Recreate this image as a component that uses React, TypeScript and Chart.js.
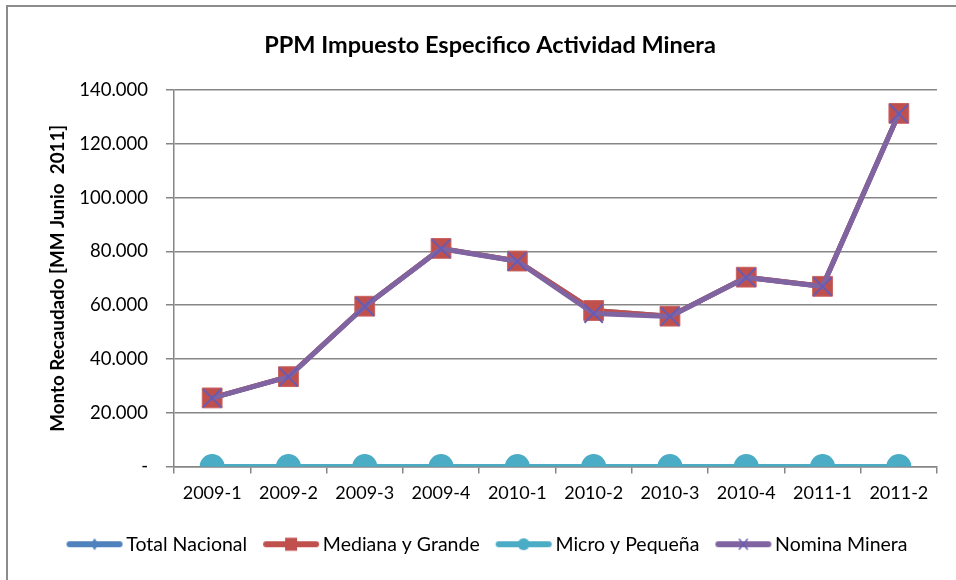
import React, { useEffect, useRef } from "react";
import { Chart, registerables } from "chart.js";

Chart.register(...registerables);

const categories = ["2009-1", "2009-2", "2009-3", "2009-4", "2010-1", "2010-2", "2010-3", "2010-4", "2011-1", "2011-2"];
const totalNacional = [25500, 33400, 59600, 81100, 76400, 58000, 55900, 70400, 67000, 131300];
const medianaYGrande = [25500, 33400, 59600, 81100, 76400, 58000, 55900, 70400, 67000, 131300];
const microYPequena = [0, 0, 0, 0, 0, 0, 0, 0, 0, 0];
const nominaMinera = [25400, 33300, 59500, 81000, 76300, 56900, 55800, 70300, 66900, 131200];
const yTicks = [0, 20000, 40000, 60000, 80000, 100000, 120000, 140000];

const FONT = "Lato, 'Open Sans', sans-serif";
const GRID = "#868686";

function fmt(v: number): string {
  if (v === 0) return "-";
  return Math.round(v).toString().replace(/\B(?=(\d{3})+(?!\d))/g, ".");
}

function legendImg(color: string, marker: (ctx: CanvasRenderingContext2D, x: number, y: number) => void) {
  const c = document.createElement("canvas");
  c.width = 58;
  c.height = 16;
  const ctx = c.getContext("2d")!;
  ctx.strokeStyle = color;
  ctx.lineWidth = 6;
  ctx.lineCap = "round";
  ctx.beginPath();
  ctx.moveTo(4, 8);
  ctx.lineTo(54, 8);
  ctx.stroke();
  ctx.fillStyle = color;
  ctx.strokeStyle = color;
  marker(ctx, 29, 8);
  return c;
}

export default function App() {
  const ref = useRef<HTMLCanvasElement | null>(null);

  useEffect(() => {
    if (!ref.current) return;
    const imgs = [
      legendImg("#4F81BD", (ctx, x, y) => {
        ctx.beginPath();
        ctx.moveTo(x, y - 6);
        ctx.lineTo(x + 4, y);
        ctx.lineTo(x, y + 6);
        ctx.lineTo(x - 4, y);
        ctx.closePath();
        ctx.fill();
      }),
      legendImg("#C0504D", (ctx, x, y) => {
        ctx.fillRect(x - 6, y - 6.5, 12, 13);
      }),
      legendImg("#4BACC6", (ctx, x, y) => {
        ctx.beginPath();
        ctx.arc(x, y, 6, 0, Math.PI * 2);
        ctx.fill();
      }),
      legendImg("#8064A2", (ctx, x, y) => {
        ctx.lineWidth = 1.5;
        ctx.strokeStyle = "#6A5BB0";
        ctx.beginPath();
        ctx.moveTo(x - 4, y - 5);
        ctx.lineTo(x + 4, y + 5);
        ctx.moveTo(x + 4, y - 5);
        ctx.lineTo(x - 4, y + 5);
        ctx.stroke();
      }),
    ];

    const chart = new Chart(ref.current, {
      type: "line",
      data: {
        labels: categories,
        datasets: [
          {
            label: "Total Nacional",
            data: totalNacional,
            borderColor: "#4F81BD",
            backgroundColor: "#4F81BD",
            borderWidth: 5,
            pointStyle: "rectRot",
            pointRadius: 5,
            order: 3,
          },
          {
            label: "Mediana y Grande",
            data: medianaYGrande,
            borderColor: "#C0504D",
            backgroundColor: "#C0504D",
            pointBorderColor: "#C96461",
            pointBorderWidth: 1,
            borderWidth: 5,
            pointStyle: "rect",
            pointRadius: 14,
            order: 2,
          },
          {
            label: "Micro y Pequeña",
            data: microYPequena,
            borderColor: "#4BACC6",
            backgroundColor: "#4BACC6",
            borderWidth: 5,
            pointStyle: "circle",
            pointRadius: 10,
            order: 1,
          },
          {
            label: "Nomina Minera",
            data: nominaMinera,
            borderColor: "#8064A2",
            backgroundColor: "#8064A2",
            pointBorderColor: "#6A5BB0",
            pointBorderWidth: 2,
            borderWidth: 5,
            pointStyle: "crossRot",
            pointRadius: 13,
            order: 0,
          },
        ],
      },
      options: {
        responsive: false,
        animation: false,
        devicePixelRatio: 1,
        color: "#000",
        elements: { line: { tension: 0, borderJoinStyle: "round", borderCapStyle: "round" } },
        layout: { padding: { left: 43, right: 19, top: 0, bottom: 16 } },
        plugins: {
          title: {
            display: true,
            text: "PPM Impuesto Especifico Actividad Minera",
            color: "#000",
            font: { family: FONT, size: 23.5, weight: "bold" },
            padding: { top: 30.9, bottom: 30.9 },
          },
          legend: {
            display: true,
            position: "bottom",
            labels: {
              usePointStyle: true,
              pointStyleWidth: 44,
              padding: 22,
              color: "#000",
              font: { family: FONT, size: 19.5 },
              generateLabels: (c: any) =>
                c.data.datasets.map((ds: any, i: number) => ({
                  text: ds.label,
                  fillStyle: ds.backgroundColor,
                  strokeStyle: ds.borderColor,
                  lineWidth: 0,
                  pointStyle: imgs[i],
                  hidden: false,
                  datasetIndex: i,
                  fontColor: "#000",
                })),
            },
          },
          tooltip: { enabled: false },
        },
        scales: {
          x: {
            type: "category",
            offset: true,
            grid: { display: true, drawOnChartArea: false, drawTicks: true, tickLength: 7, color: GRID, lineWidth: 1.5, offset: true },
            border: { display: true, color: GRID, width: 1.5 },
            ticks: { color: "#000", font: { family: FONT, size: 18 }, padding: 9, maxRotation: 0, autoSkip: false },
            afterFit: (s: any) => {
              s.height = 46;
            },
          },
          y: {
            min: 0,
            max: 140000,
            afterBuildTicks: (s: any) => {
              s.ticks = yTicks.map((v) => ({ value: v }));
            },
            grid: { color: GRID, lineWidth: 1.5, tickLength: 8, drawTicks: true },
            border: { display: true, color: GRID, width: 1.5 },
            ticks: {
              color: "#000",
              font: { family: FONT, size: 18.5 },
              padding: 18,
              callback: (v: any) => fmt(Number(v)),
            },
            title: {
              display: true,
              text: "Monto Recaudado [MM Junio  2011]",
              color: "#000",
              font: { family: FONT, size: 18.8, weight: "bold" },
              padding: { top: 3.7, bottom: 0 },
            },
            afterFit: (s: any) => {
              s.width = 131;
            },
          },
        },
      },
    });
    return () => chart.destroy();
  }, []);

  return (
    <div style={{ position: "fixed", left: 0, top: 0, width: 956, height: 580, overflow: "hidden", background: "#fff" }}>
      <div style={{ position: "absolute", left: 6, top: 5, width: 2000, height: 2000, borderLeft: "2px solid #8c8c8c", borderTop: "2px solid #8c8c8c" }} />
      <canvas ref={ref} width={956} height={580} style={{ position: "absolute", left: 0, top: 0, width: 956, height: 580 }} />
    </div>
  );
}
